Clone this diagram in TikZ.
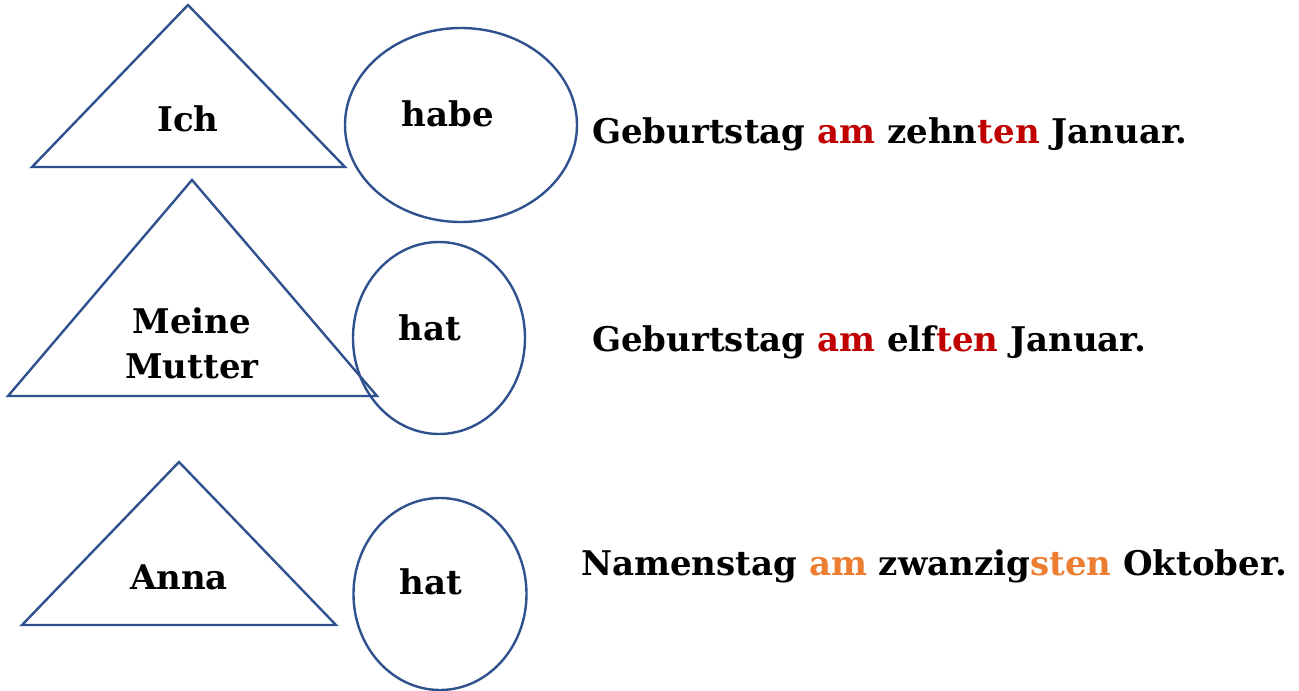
\documentclass[tikz,border=0pt]{standalone}
\usepackage{fontspec}
\setmainfont{DejaVu Serif}
\usetikzlibrary{shapes.geometric}
\definecolor{rimblue}{RGB}{47,82,143}
\definecolor{amred}{RGB}{192,0,0}
\definecolor{amorange}{RGB}{237,125,49}

\begin{document}
\begin{tikzpicture}[x=1pt,y=-1pt,
    rim/.style={draw=rimblue,line width=2.4pt},
    bubble/.style={rim,ellipse,inner sep=0pt},
    word/.style={font=\fontsize{34}{45}\selectfont\bfseries,inner sep=0pt,align=center}]
    \useasboundingbox (0,0) rectangle (1299,691);
    % triangles
    \draw[rim] (188,5) -- (345,167) -- (32,167) -- cycle;
    \draw[rim] (192,180) -- (377,396) -- (8,396) -- cycle;
    \draw[rim] (179,462) -- (336,625) -- (22,625) -- cycle;
    % circles
    \node[bubble,minimum width=232,minimum height=194] (kreis1) at (461,125) {};
    \node[bubble,minimum width=172,minimum height=192] (kreis2) at (439,338) {};
    \node[bubble,minimum width=173,minimum height=192] (kreis3) at (440,594) {};
    % words
    \node[word] (ich) at (188,119) {Ich};
    \node[word] (mutter) at (192,343) {Meine\\Mutter};
    \node[word] (anna) at (179,577) {Anna};
    \node[word] (habe) at (448,114) {habe};
    \node[word] (hat1) at (430,328) {hat};
    \node[word] (hat2) at (431,582) {hat};
    \node[word,anchor=base west] (satz1) at (592,143) {Geburtstag \textcolor{amred}{am} zehn\textcolor{amred}{ten} Januar.};
    \node[word,anchor=base west] (satz2) at (592,351) {Geburtstag \textcolor{amred}{am} elf\textcolor{amred}{ten} Januar.};
    \node[word,anchor=base west] (satz3) at (581,575) {Namenstag \textcolor{amorange}{am} zwanzig\textcolor{amorange}{sten} Oktober.};
\end{tikzpicture}
\end{document}
